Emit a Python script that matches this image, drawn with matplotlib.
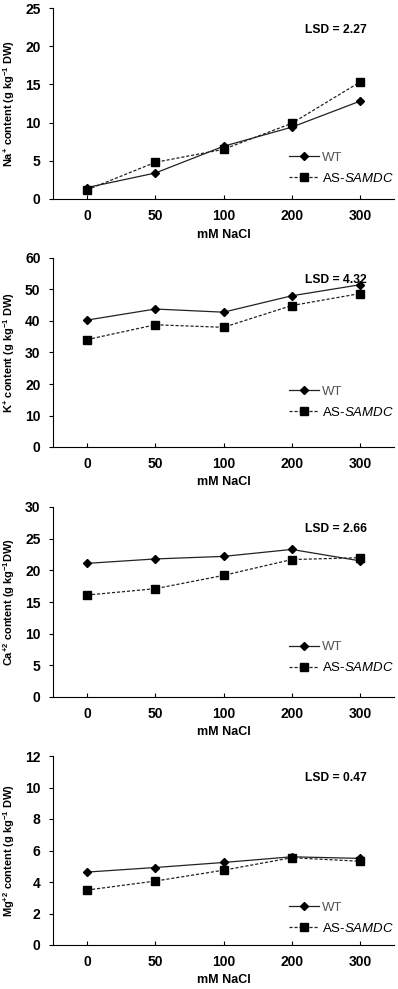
import numpy as np
import matplotlib
matplotlib.use('Agg')
import matplotlib.pyplot as plt

plt.rcParams['font.family'] = ['Liberation Sans', 'DejaVu Sans']
plt.rcParams['mathtext.fontset'] = 'custom'
plt.rcParams['mathtext.rm'] = 'Liberation Sans:bold'
plt.rcParams['mathtext.it'] = 'Liberation Sans:italic'
plt.rcParams['mathtext.bf'] = 'Liberation Sans:bold'

nacl = ['0', '50', '100', '200', '300']

na_wt = [1.5, 3.4, 6.9, 9.4, 12.8]
na_as = [1.2, 4.8, 6.5, 9.9, 15.3]
k_wt = [40.3, 43.8, 42.8, 48.0, 51.5]
k_as = [34.1, 38.8, 38.0, 44.9, 48.7]
ca_wt = [21.1, 21.8, 22.2, 23.3, 21.5]
ca_as = [16.1, 17.1, 19.2, 21.7, 22.0]
mg_wt = [4.63, 4.92, 5.24, 5.60, 5.50]
mg_as = [3.49, 4.06, 4.75, 5.54, 5.32]

panels = [
    (na_wt, na_as, 'Na$^{+}$ content (g kg$^{-1}$ DW)', 25, 5, 'LSD = 2.27'),
    (k_wt, k_as, 'K$^{+}$ content (g kg$^{-1}$ DW)', 60, 10, 'LSD = 4.32'),
    (ca_wt, ca_as, 'Ca$^{+2}$ content (g kg$^{-1}$DW)', 30, 5, 'LSD = 2.66'),
    (mg_wt, mg_as, 'Mg$^{+2}$ content (g kg$^{-1}$ DW)', 12, 2, 'LSD = 0.47'),
]

fig = plt.figure(figsize=(3.98, 9.89), dpi=100)
# axes boxes in pixels: top, bottom ; legend height above the x axis
boxes = [(8, 199), (258, 447), (507, 697), (756, 945)]
leg_y = [0.075, 0.15, 0.12, 0.055]
H = 989.0
W = 398.0
x = np.arange(len(nacl))

for (wt, asd, ylab, ymax, ystep, lsd), (top, bot), ly in zip(panels, boxes, leg_y):
    ax = fig.add_axes([53 / W, (H - bot) / H, 341 / W, (bot - top) / H])
    ax.plot(x, wt, color='#222222', lw=0.9, ls='-', marker='D', ms=4,
            mfc='black', mec='black', label='WT')
    ax.plot(x, asd, color='#222222', lw=0.9, ls=(0, (2.5, 1.5)), marker='s', ms=5.5,
            mfc='black', mec='black', label='AS-$\\it{SAMDC}$')
    ax.set_xlim(-0.5, 4.5)
    ax.set_ylim(0, ymax)
    ax.set_yticks(np.arange(0, ymax + 0.1, ystep))
    ax.set_xticks(x)
    ax.set_xticklabels(nacl)
    for s in ['top', 'right']:
        ax.spines[s].set_visible(False)
    for s in ['left', 'bottom']:
        ax.spines[s].set_linewidth(0.8)
    ax.tick_params(axis='y', direction='out', length=3, width=0.8, pad=6,
                   labelsize=10)
    ax.tick_params(axis='x', direction='in', length=3, width=0.8, pad=7,
                   labelsize=10)
    for lab in ax.get_xticklabels() + ax.get_yticklabels():
        lab.set_fontweight('bold')
    ax.set_ylabel(ylab, fontsize=7.9, fontweight='bold')
    ax.yaxis.set_label_coords(-0.105, 0.5)
    ax.set_xlabel('mM NaCl', fontsize=9, fontweight='bold')
    ax.xaxis.set_label_coords(0.5, -0.155)
    ax.text(0.92, 0.885, lsd, transform=ax.transAxes, ha='right', va='center',
            fontsize=8.7, fontweight='bold')
    leg = ax.legend(loc='lower right', bbox_to_anchor=(1.0, ly), frameon=False,
                    fontsize=9.5, handlelength=2.3, handletextpad=0.2,
                    labelspacing=0.6, borderpad=0, borderaxespad=0)
    leg.get_texts()[0].set_color('#555555')

fig.savefig('out.png', dpi=100)
